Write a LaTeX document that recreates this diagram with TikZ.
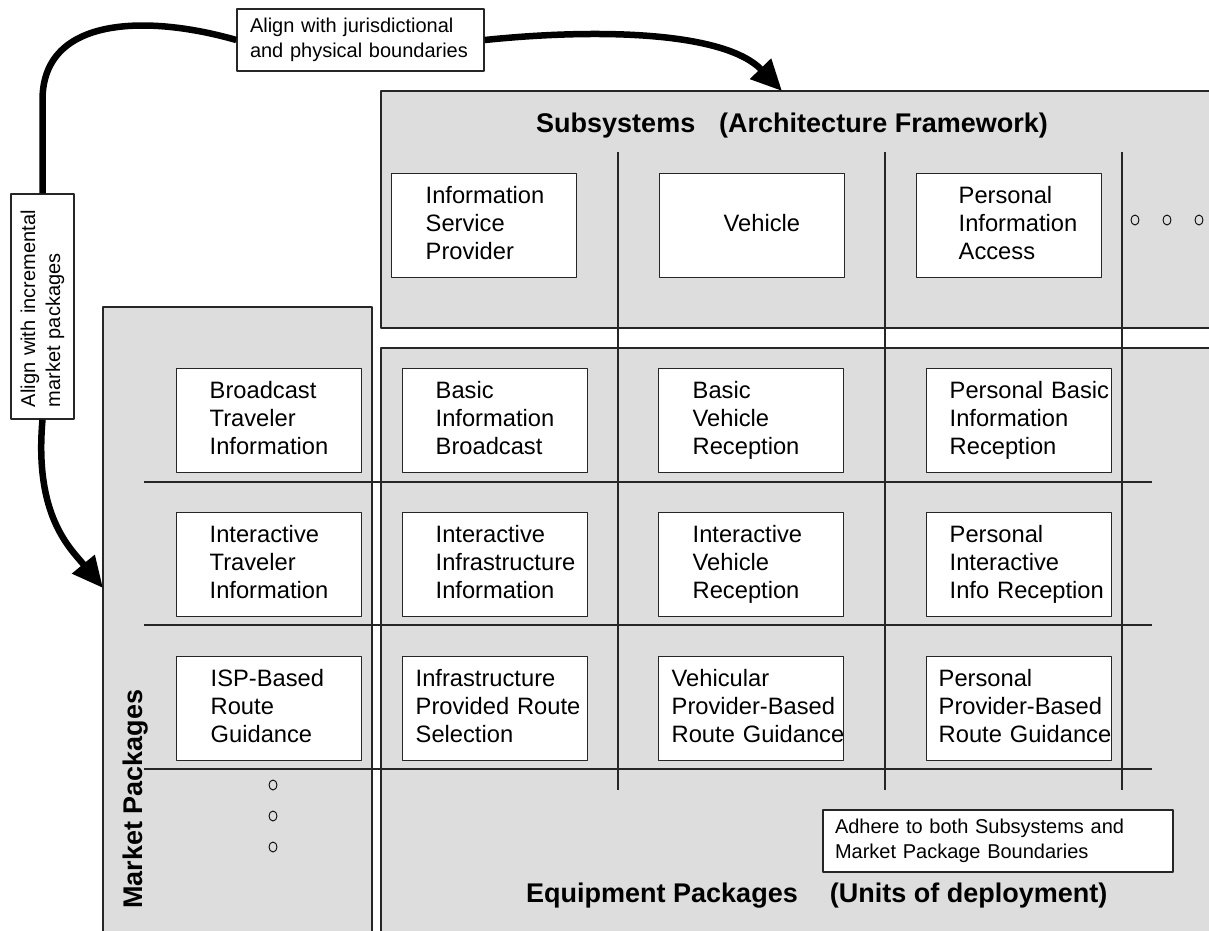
\documentclass[tikz,border=0pt]{standalone}
\usepackage{fontspec}
\setmainfont{Liberation Sans}
\usetikzlibrary{arrows.meta}
\definecolor{panelgray}{RGB}{221,221,221}
\newcommand\pkgfont{\fontsize{23.7}{28}\selectfont}
\newcommand\notefont{\fontsize{20}{25}\selectfont}
\newcommand\headfont{\fontsize{27}{32}\selectfont\bfseries}
\hyphenpenalty=10000
\exhyphenpenalty=10000
\begin{document}
\begin{tikzpicture}[x=1pt,y=-1pt,line join=round,
	panel/.style={fill=panelgray,draw=black!85,line width=1.6pt},
	gridline/.style={draw=black!85,line width=1.2pt},
	pkg/.style={draw=black!85,fill=white,line width=1.4pt,anchor=north west,minimum height=104pt,inner ysep=0pt,align=left,font=\pkgfont,execute at begin node=\strut,execute at end node=\strut},
	note/.style={draw=black!85,fill=white,line width=1.4pt,inner ysep=0pt,align=left,font=\notefont,execute at begin node=\strut,execute at end node=\strut},
	head/.style={font=\headfont,inner sep=0pt},
	bigline/.style={line width=6.5pt},
	bigarrow/.style={line width=6.5pt,-{Triangle[length=31pt,width=28pt]}},
	dot/.style={draw=black,line width=0.9pt}]
	\useasboundingbox (0,0) rectangle (1209,930);
	\clip (0,0) rectangle (1209,930);
	\draw[panel] (381,91) rectangle (1230,328);
	\draw[panel] (381,348) rectangle (1230,950);
	\draw[panel] (103,307) rectangle (372,950);
	\foreach \y in {482,625,769}
	\draw[gridline] (144,\y) -- (1152,\y);
	\foreach \x in {618,885,1122}
	\draw[gridline] (\x,152) -- (\x,790);
	\node[head,anchor=base west] (subhead) at (536,132) {Subsystems\hspace{24pt}(Architecture Framework)};
	\node[head,anchor=base west] (ephead) at (526,902) {Equipment Packages\hspace{32pt}(Units of deployment)};
	\node[head,anchor=base,rotate=90] (mphead) at (142,799) {Market Packages};
	\foreach \n/\x/\l/\t in {isp/391/34/{Information\\Service\\Provider},veh/659/64/{Vehicle},pia/916/42/{Personal\\Information\\Access}}
	{\pgfmathsetmacro\tw{185-2*\l}
		\node[pkg,text width=\tw pt,inner xsep=\l pt] (\n) at (\x,173) {\t};}
	\foreach \n/\x/\y/\l/\t in {bti/176/368/33/{Broadcast\\Traveler\\Information},bib/402/368/33/{Basic\\Information\\Broadcast},bvr/658/368/34/{Basic\\Vehicle\\Reception},pbir/926/368/23/{Personal~Basic\\Information\\Reception},
		iti/176/512/33/{Interactive\\Traveler\\Information},iii/402/512/33/{Interactive\\Infrastructure\\Information},ivr/658/512/34/{Interactive\\Vehicle\\Reception},piir/926/512/23/{Personal\\Interactive\\Info~Reception},
		isprg/176/656/34/{ISP-Based\\Route\\Guidance},iprs/402/656/13/{Infrastructure\\Provided~Route\\Selection},vpbrg/658/656/13/{Vehicular\\Provider-Based\\Route~Guidance},ppbrg/926/656/12/{Personal\\Provider-Based\\Route~Guidance}}
	{\pgfmathsetmacro\tw{185-2*\l}
		\node[pkg,text width=\tw pt,inner xsep=\l pt] (\n) at (\x,\y) {\t};}
	\foreach \x in {1135,1167,1199}
	\draw[dot] (\x,220) ellipse[x radius=4,y radius=5];
	\foreach \y in {785,816,847}
	\draw[dot] (273,\y) ellipse[x radius=4,y radius=5];
	\node[note,text width=221pt,inner xsep=13pt,minimum height=62pt] (jur) at (360.5,40) {Align with jurisdictional\\and physical boundaries};
	\node[note,text width=201pt,inner xsep=12pt,minimum height=63pt,rotate=90] (inc) at (42.5,306.5) {Align with incremental\\market packages};
	\node[note,text width=326pt,inner xsep=12pt,minimum height=62pt] (adh) at (998,841) {Adhere to both Subsystems and\\Market Package Boundaries};
	\path
	(782,91) coordinate (subtip)
	(103,588) coordinate (mptip)
	(42.5,100) coordinate (bend);
	\draw[bigarrow] (jur.east) .. controls +(116,-12) and +(-57,-59) .. (subtip);
	\draw[bigline] (jur.west) .. controls +(-87,-25) and +(0,-85) .. (bend) -- (inc.east);
	\draw[bigarrow] (inc.west) .. controls +(-8.5,96) and +(-33,-40) .. (mptip);
\end{tikzpicture}
\end{document}
